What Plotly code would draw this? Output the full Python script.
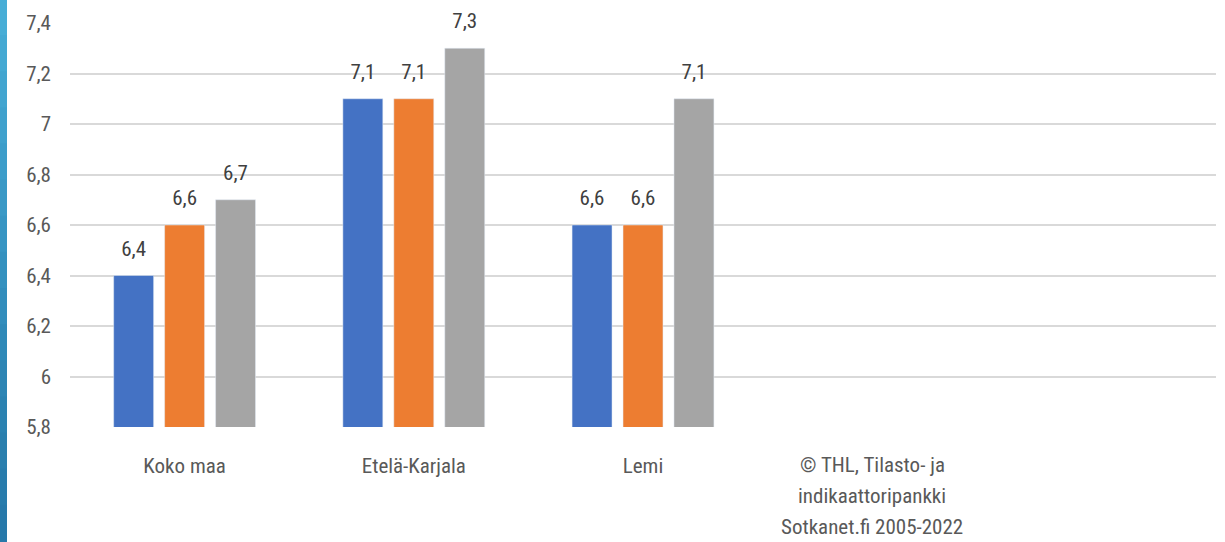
import plotly.graph_objects as go

categories = ["Koko maa", "Etelä-Karjala", "Lemi", "THL", "tyhjä"]
tick_labels = ["Koko maa", "Etelä-Karjala", "Lemi", "", ""]
source_lines = ["© THL, Tilasto- ja", "indikaattoripankki", "Sotkanet.fi 2005-2022"]
y_ticks = [5.8, 6.0, 6.2, 6.4, 6.6, 6.8, 7.0, 7.2, 7.4]
y_tick_labels = ["5,8", "6", "6,2", "6,4", "6,6", "6,8", "7", "7,2", "7,4"]
series_names = ["Sarja 1", "Sarja 2", "Sarja 3"]
series_1 = [6.4, 7.1, 6.6, None, None]
series_2 = [6.6, 7.1, 6.6, None, None]
series_3 = [6.7, 7.3, 7.1, None, None]

colors = ["#4472C4", "#ED7D31", "#A5A5A5"]
FONT = "Liberation Sans Narrow, Arial Narrow, Roboto Condensed, Roboto, sans-serif"
FS = 21

fig = go.Figure()
for name, vals, col in zip(series_names, [series_1, series_2, series_3], colors):
    fig.add_trace(go.Bar(x=categories, y=vals, name=name, marker_color=col,
                         offsetgroup=name, showlegend=False, hoverinfo="skip"))
for name, vals in zip(series_names, [series_1, series_2, series_3]):
    fig.add_trace(go.Scatter(
        x=categories, y=vals, mode="markers+text", offsetgroup=name,
        marker=dict(size=22, opacity=0), showlegend=False, hoverinfo="skip",
        text=[("%.1f" % v).replace(".", ",") if v is not None else "" for v in vals],
        textposition="top center", cliponaxis=False,
        textfont=dict(family=FONT, size=FS, color="#404040")))

# source text under the fourth category
for i, line in enumerate(source_lines):
    fig.add_annotation(x=categories[3], xref="x", yref="paper", y=0, yshift=-38 - 31 * i,
                       text=line, showarrow=False, yanchor="middle",
                       font=dict(family=FONT, size=FS, color="#595959"))

# left decorative strip (gradient approximated)
strip_cols = ["#47ADD6", "#44A9D3", "#42A5D0", "#3FA1CD", "#3C9DCA", "#3A99C6", "#3795C3",
              "#3491BF", "#328DBC", "#2F89B8", "#2D85B4", "#2B82B1", "#2A7FAE", "#287CAC", "#2779AA"]
n = len(strip_cols)
total_h = 542
for i, c in enumerate(strip_cols):
    top = 427 - total_h * i / n + 1
    bot = 427 - total_h * (i + 1) / n
    fig.add_shape(type="rect", xref="paper", yref="paper", xsizemode="pixel", ysizemode="pixel",
                  xanchor=0, yanchor=0, x0=-70, x1=-63, y0=bot, y1=top,
                  fillcolor=c, line=dict(width=0), layer="above")

fig.update_layout(
    width=1225, height=542,
    margin=dict(l=70, r=9, t=23, b=115, autoexpand=False),
    paper_bgcolor="white", plot_bgcolor="white",
    barmode="group", bargap=0.333, bargroupgap=0.216,
    scattermode="group", scattergap=0.333,
    font=dict(family=FONT, size=FS, color="#595959"),
    xaxis=dict(tickmode="array", tickvals=categories, ticktext=tick_labels,
               showgrid=False, showline=False, ticks="", ticklen=0, automargin=False,
               tickfont=dict(family=FONT, size=FS, color="#595959")),
    yaxis=dict(range=[5.8, 7.4], tickmode="array", tickvals=y_ticks, ticktext=y_tick_labels,
               showgrid=True, gridcolor="#D9D9D9", gridwidth=1.5, automargin=False,
               zeroline=False, showline=False, ticks="",
               tickfont=dict(family=FONT, size=FS, color="#595959")),
)
fig.update_yaxes(ticklabelstandoff=18)
fig.update_xaxes(ticklabelstandoff=24)

fig.write_html("out.html", config={"displayModeBar": False},
               post_script="document.body.style.margin='0';")
